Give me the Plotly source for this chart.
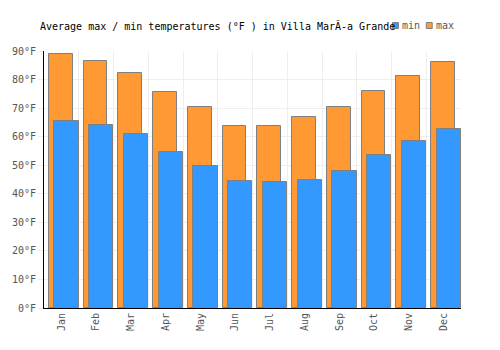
import plotly.graph_objects as go

months = ["Jan", "Feb", "Mar", "Apr", "May", "Jun", "Jul", "Aug", "Sep", "Oct", "Nov", "Dec"]
max_f = [88.8, 86.4, 82.2, 75.5, 70.3, 63.6, 63.6, 66.8, 70.3, 75.9, 81.1, 86.0]
min_f = [65.5, 64.0, 60.8, 54.5, 49.6, 44.4, 44.0, 45.0, 47.9, 53.5, 58.5, 62.6]
yticks = [0, 10, 20, 30, 40, 50, 60, 70, 80, 90]
ytick_labels = [f"{v}°F" for v in yticks]

FONT = "DejaVu Sans Mono"
MAX_COLOR = "#FF9933"
MIN_COLOR = "#3399FF"
EDGE = "#808080"

fig = go.Figure()
fig.add_trace(go.Bar(
    x=months, y=max_f, name="max",
    marker=dict(color=MAX_COLOR, line=dict(color=EDGE, width=1)),
    width=0.68, offset=-0.36, showlegend=False,
))
fig.add_trace(go.Bar(
    x=months, y=min_f, name="min",
    marker=dict(color=MIN_COLOR, line=dict(color=EDGE, width=1)),
    width=0.70, offset=-0.205, showlegend=False,
))

# custom legend (paper coords)
W, H = 500, 350
L, R, T, B = 41, 39, 51, 42
pw, ph = W - L - R, H - T - B

def px(x):
    return (x - L) / pw

def py(y):
    return (H - B - y) / ph

legend_items = [("min", MIN_COLOR, 392), ("max", MAX_COLOR, 426)]
shapes = []
annotations = []
for name, color, x0 in legend_items:
    shapes.append(dict(type="rect", xref="paper", yref="paper",
                       x0=px(x0), x1=px(x0 + 6), y0=py(28.5), y1=py(22.5),
                       fillcolor=color, line=dict(color=EDGE, width=1)))
    annotations.append(dict(text=name, xref="paper", yref="paper",
                            x=px(x0 + 8), y=py(25.5), xanchor="left", yanchor="middle",
                            showarrow=False,
                            font=dict(family=FONT, size=10, color="#555555")))

fig.update_layout(
    width=W, height=H,
    margin=dict(l=L, r=R, t=T, b=B),
    paper_bgcolor="white", plot_bgcolor="white",
    barmode="overlay",
    showlegend=False,
    font=dict(family=FONT, size=10, color="#555555"),
    title=dict(
        text="Average max / min temperatures (°F ) in Villa MarĂ-a Grande",
        font=dict(family=FONT, size=10, color="#000000"),
        x=40/W, xanchor="left", y=1-26/H, yanchor="middle",
    ),
    shapes=shapes,
    annotations=annotations,
    xaxis=dict(
        type="category", tickson="boundaries",
        showgrid=True, gridcolor="#eeeeee", gridwidth=1,
        showline=True, linecolor="#000000", linewidth=1,
        ticks="", tickangle=-90,
        tickfont=dict(family=FONT, size=10, color="#555555"),
        range=[-0.5, 11.5],
    ),
    yaxis=dict(
        range=[0, 90], tickmode="array", tickvals=yticks, ticktext=ytick_labels,
        showgrid=True, gridcolor="#eeeeee", gridwidth=1,
        showline=True, linecolor="#000000", linewidth=1,
        ticks="outside", ticklen=5, tickcolor="#eeeeee",
        tickfont=dict(family=FONT, size=10, color="#555555"),
        zeroline=False,
    ),
    bargap=0,
)

fig.write_html("out.html")
